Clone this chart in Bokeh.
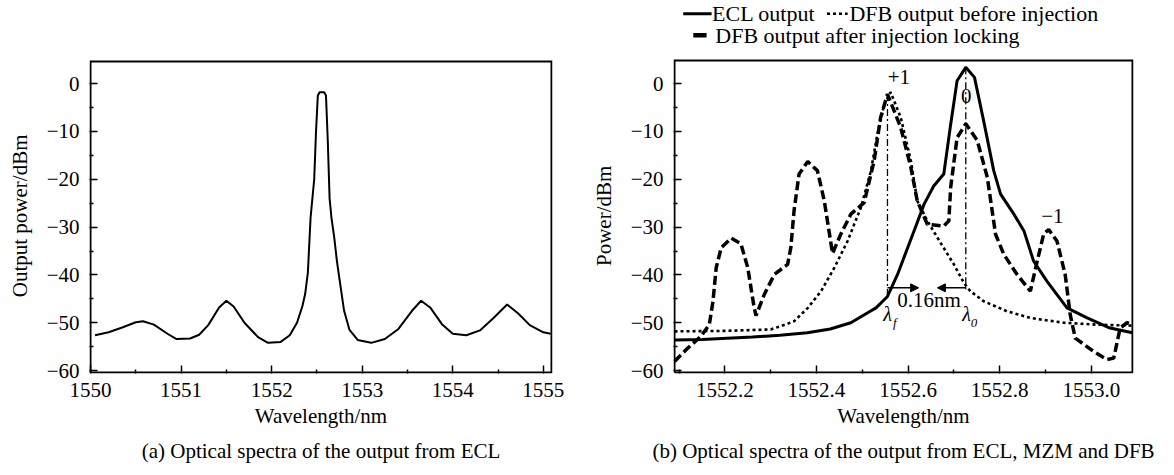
from bokeh.plotting import figure
from bokeh.models import (Title, Arrow, NormalHead, CustomJSTickFormatter, FixedTicker)
from bokeh.layouts import row
from bokeh.embed import file_html
from bokeh.resources import INLINE
from bokeh.core.properties import value

FONT = "Liberation Serif"

# ---------------- data: panel (a) ECL spectrum ----------------
a_wavelength = [1550.05, 1550.2, 1550.35, 1550.5, 1550.58, 1550.7, 1550.85, 1550.95,
                1551.1, 1551.2, 1551.3, 1551.42, 1551.5, 1551.58, 1551.7, 1551.85,
                1551.96, 1552.1, 1552.2, 1552.28, 1552.34, 1552.37, 1552.40, 1552.43,
                1552.45, 1552.47, 1552.49, 1552.51, 1552.53, 1552.58, 1552.60, 1552.62,
                1552.64, 1552.66, 1552.69, 1552.72, 1552.75, 1552.80, 1552.86, 1552.95,
                1553.1, 1553.25, 1553.4, 1553.55, 1553.65, 1553.75, 1553.88, 1554.0,
                1554.15, 1554.3, 1554.45, 1554.6, 1554.72, 1554.85, 1555.0, 1555.08]
a_power = [-52.6, -52.0, -51.0, -49.9, -49.7, -50.4, -52.3, -53.4,
           -53.3, -52.5, -50.5, -46.8, -45.4, -46.6, -50.0, -53.0,
           -54.2, -54.0, -52.6, -50.0, -46.5, -44.0, -39.5, -28.0,
           -24.0, -20.0, -10.0, -2.5, -1.8, -1.8, -2.5, -12.0,
           -24.0, -28.0, -32.0, -37.0, -41.0, -47.5, -51.5, -53.6,
           -54.2, -53.4, -51.3, -47.5, -45.4, -46.8, -50.3, -52.3,
           -52.6, -51.6, -49.0, -46.2, -48.0, -50.5, -52.0, -52.3]

# ---------------- data: panel (b) ----------------
ecl_wavelength = [1552.09, 1552.15, 1552.26, 1552.32, 1552.38, 1552.43, 1552.475, 1552.51,
                  1552.53, 1552.555, 1552.577, 1552.613, 1552.635, 1552.656, 1552.678,
                  1552.692, 1552.70, 1552.707, 1552.726, 1552.745, 1552.765, 1552.787,
                  1552.802, 1552.831, 1552.853, 1552.874, 1552.903, 1552.947, 1552.991,
                  1553.041, 1553.09]
ecl_power = [-53.6, -53.5, -53.0, -52.6, -52.1, -51.3, -50.0, -48.0,
             -46.9, -44.5, -39.9, -30.8, -25.2, -21.4, -18.9,
             -9.2, -4.0, 0.6, 3.4, 1.3, -7.8, -18.2,
             -23.1, -27.3, -30.8, -37.1, -41.3, -46.9, -49.0,
             -51.1, -52.1]

dfb_before_wavelength = [1552.09, 1552.2, 1552.30, 1552.322, 1552.351, 1552.381, 1552.41,
                         1552.439, 1552.468, 1552.497, 1552.519, 1552.533, 1552.548, 1552.562,
                         1552.584, 1552.606, 1552.62, 1552.642, 1552.671, 1552.70, 1552.722,
                         1552.736, 1552.765, 1552.816, 1552.867, 1552.94, 1553.012, 1553.09]
dfb_before_power = [-51.8, -51.7, -51.4, -50.7, -49.7, -46.9, -43.4,
                    -38.5, -32.9, -25.9, -18.2, -10.6, -4.3, -1.8,
                    -7.1, -16.1, -24.5, -28.7, -33.3, -37.8, -41.7,
                    -43.4, -45.5, -47.6, -49.0, -50.0, -50.4, -50.6]

dfb_after_wavelength = [1552.09, 1552.119, 1552.148, 1552.166, 1552.174, 1552.181, 1552.192,
                        1552.214, 1552.235, 1552.25, 1552.264, 1552.268, 1552.286, 1552.308,
                        1552.337, 1552.344, 1552.351, 1552.362, 1552.381, 1552.402, 1552.417,
                        1552.435, 1552.453, 1552.475, 1552.504, 1552.526, 1552.54, 1552.555,
                        1552.584, 1552.606, 1552.62, 1552.642, 1552.678, 1552.689, 1552.693,
                        1552.707, 1552.726, 1552.751, 1552.773, 1552.791, 1552.809, 1552.838,
                        1552.867, 1552.882, 1552.896, 1552.907, 1552.925, 1552.943, 1552.954,
                        1552.965, 1553.005, 1553.034, 1553.049, 1553.063, 1553.078, 1553.09]
dfb_after_power = [-58.1, -55.3, -52.8, -50.4, -45.5, -38.5, -34.3,
                   -32.3, -33.5, -38.5, -46.9, -48.5, -44.1, -39.9,
                   -37.8, -34.3, -26.6, -18.9, -16.3, -18.2, -24.5,
                   -35.5, -31.5, -27.3, -24.9, -16.1, -7.1, -2.2,
                   -9.2, -17.5, -24.5, -29.4, -29.8, -28.7, -21.7,
                   -11.3, -8.4, -11.9, -19.6, -31.5, -35.7, -39.9,
                   -43.4, -37.1, -31.5, -30.5, -32.9, -39.9, -48.3,
                   -53.2, -56.0, -57.7, -57.4, -51.1, -50.0, -50.4]

# marker wavelengths
lambda_f = 1552.555
lambda_0 = 1552.726

# legend labels
legend_labels = ["ECL output", "DFB output before injection",
                 "DFB output after injection locking"]

# ticks
a_x_ticks = [1550, 1551, 1552, 1553, 1554, 1555]
a_x_minor = [1550.5, 1551.5, 1552.5, 1553.5, 1554.5]
b_x_ticks = [1552.2, 1552.4, 1552.6, 1552.8, 1553.0]
b_x_minor = [1552.1, 1552.3, 1552.5, 1552.7, 1552.9]
y_ticks = [-60, -50, -40, -30, -20, -10, 0]
y_minor = [-55, -45, -35, -25, -15, -5]

Y_FMT = "return tick < 0 ? '\u2212' + Math.abs(tick).toFixed(0) : tick.toFixed(0);"
NBSP_PAD = "\u00a0" * 11          # shifts the y-axis title down to the box centre
Y_RANGE = (-60.61, 17.37)         # frame spans the whole height; box drawn inside


def style(p, xt, xminor, xfmt, ylabel, caption, box):
    p.xaxis.ticker = FixedTicker(ticks=xt, minor_ticks=xminor)
    p.yaxis.ticker = FixedTicker(ticks=y_ticks, minor_ticks=y_minor)
    p.xaxis.formatter = CustomJSTickFormatter(code=xfmt)
    p.yaxis.formatter = CustomJSTickFormatter(code=Y_FMT)
    for ax in (p.xaxis[0], p.yaxis[0]):
        ax.major_tick_in = 8
        ax.major_tick_out = 0
        ax.minor_tick_in = 4
        ax.minor_tick_out = 0
        ax.major_tick_line_width = 1.5
        ax.minor_tick_line_width = 1.5
        ax.major_tick_line_color = "black"
        ax.minor_tick_line_color = "black"
        ax.axis_line_color = None
        ax.major_label_text_font = FONT
        ax.major_label_text_font_size = "21px"
        ax.major_label_text_color = "black"
        ax.axis_label_text_font = FONT
        ax.axis_label_text_font_size = "21px"
        ax.axis_label_text_font_style = "normal"
        ax.axis_label_text_color = "black"
    p.xaxis.axis_label = "Wavelength/nm"
    p.yaxis.axis_label = ylabel + NBSP_PAD
    p.xaxis.major_label_standoff = 9
    p.yaxis.major_label_standoff = 10
    p.xaxis.axis_label_standoff = 4
    p.yaxis.axis_label_standoff = 12
    p.xgrid.visible = False
    p.ygrid.visible = False
    p.outline_line_color = None
    p.background_fill_color = "white"
    p.border_fill_color = "white"
    x0, x1, y0, y1 = box
    p.line([x0, x0, x1, x1, x0], [y0, y1, y1, y0, y0], line_color="black",
           line_width=2, line_join="miter")
    cap = Title(text=caption, align="center", text_font=FONT, text_font_size="21px",
                text_font_style="normal", text_color="black", standoff=13)
    p.add_layout(cap, "below")


# ---------------- panel (a) ----------------
p1 = figure(width=586, height=475, x_range=(1549.989, 1555.101), y_range=Y_RANGE,
            output_backend="svg", toolbar_location=None,
            min_border_left=89, min_border_right=34, min_border_top=0, min_border_bottom=102)
p1.line(a_wavelength, a_power, line_color="black", line_width=2)
style(p1, a_x_ticks, a_x_minor, "return tick.toFixed(0);", "Output power/dBm",
      "(a) Optical spectra of the output from ECL", (1550.0, 1555.09, -60.4, 4.62))

# ---------------- panel (b) ----------------
p2 = figure(width=588, height=475, x_range=(1552.0878, 1553.0922), y_range=Y_RANGE,
            output_backend="svg", toolbar_location=None,
            min_border_left=87, min_border_right=41, min_border_top=0, min_border_bottom=102)

p2.line(dfb_before_wavelength, dfb_before_power, line_color="black", line_width=2.6,
        line_dash="3 3")
p2.line(dfb_after_wavelength, dfb_after_power, line_color="black", line_width=3.5,
        line_dash="9 4")
p2.line(ecl_wavelength, ecl_power, line_color="black", line_width=3)

# vertical marker lines
p2.line([lambda_f, lambda_f], [-2.2, -44.5], line_color="black", line_width=1.3,
        line_dash="7 3 2 3")
p2.line([lambda_0, lambda_0], [3.4, -43.5], line_color="black", line_width=1.3,
        line_dash="7 3 2 3")

# spacing arrows
p2.add_layout(Arrow(end=NormalHead(size=8, fill_color="black", line_color="black"),
                    x_start=lambda_f, y_start=-42.7, x_end=1552.623, y_end=-42.7,
                    line_color="black", line_width=1.5))
p2.add_layout(Arrow(end=NormalHead(size=8, fill_color="black", line_color="black"),
                    x_start=lambda_0, y_start=-42.7, x_end=1552.664, y_end=-42.7,
                    line_color="black", line_width=1.5))

txt = dict(text_font=value(FONT), text_color="black", text_align="center",
           text_baseline="middle")
p2.text(x=[1552.58, 1552.727, 1552.915, 1552.646], y=[1.3, -2.5, -27.7, -45.3],
        text=["+1", "0", "\u22121", "0.16nm"], text_font_size="21px", **txt)
p2.text(x=[1552.555, 1552.728], y=[-48.2, -48.2], text=["\u03bb", "\u03bb"],
        text_font_size="20px", text_font_style="italic", **txt)
p2.text(x=[1552.571, 1552.744], y=[-50.0, -50.0], text=["f", "0"],
        text_font_size="13px", text_font_style="italic", **txt)

# ---- legend, drawn in the strip above the box ----
ROW1_LINE, ROW1_MID = 14.6, 14.7
ROW2_LINE, ROW2_MID = 10.1, 10.0
p2.line([1552.109, 1552.171], [ROW1_LINE, ROW1_LINE], line_color="black", line_width=3)
p2.line([1552.423, 1552.468], [ROW1_LINE, ROW1_LINE], line_color="black",
        line_width=2.6, line_dash="3 3")
p2.line([1552.131, 1552.160], [ROW2_LINE, ROW2_LINE], line_color="black", line_width=4.5)
leg_txt = dict(text_font=value(FONT), text_font_size="22px", text_color="black",
               text_baseline="middle", text_align="left")
p2.text(x=[1552.172, 1552.472, 1552.179], y=[ROW1_MID, ROW1_MID, ROW2_MID],
        text=legend_labels, **leg_txt)

style(p2, b_x_ticks, b_x_minor, "return tick.toFixed(1);", "Power/dBm",
      "(b) Optical spectra of the output from ECL, MZM and DFB",
      (1552.09, 1553.09, -60.4, 4.83))

layout = row(p1, p2)
open("out.html", "w").write(file_html(layout, INLINE))
